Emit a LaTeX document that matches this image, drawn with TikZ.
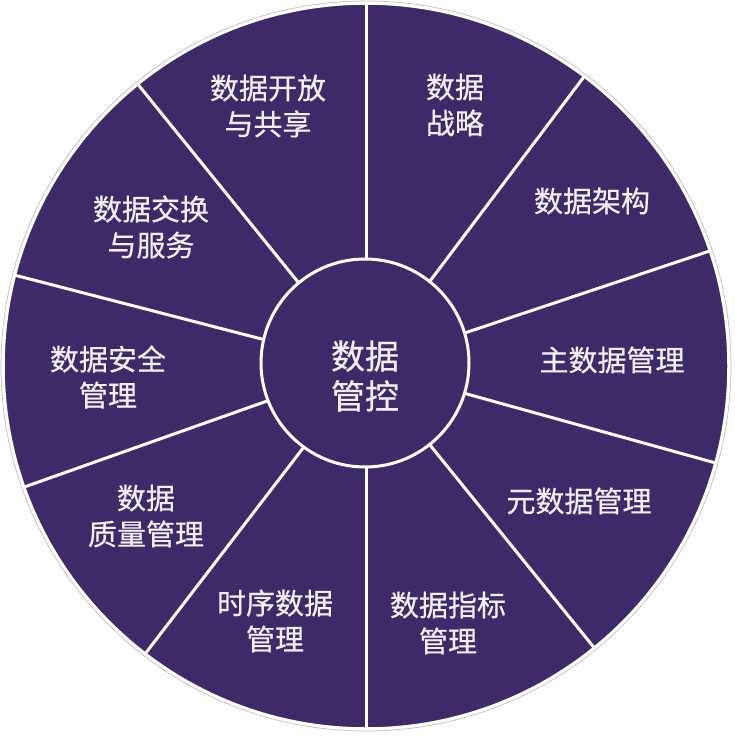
\documentclass[tikz,border=0pt]{standalone}
\usepackage{fontspec}
\newfontfamily\cjk[FakeBold=0.6]{Noto Sans CJK SC}
\definecolor{wheelpurple}{HTML}{3E2A69}
\definecolor{labelwhite}{HTML}{F2EEF8}
\begin{document}
\begin{tikzpicture}[x=1pt,y=-1pt,
  seglabel/.style={text=labelwhite, font=\cjk\fontsize{29}{36}\selectfont, align=center, inner sep=0pt},
  hublabel/.style={text=labelwhite, font=\cjk\fontsize{34}{40}\selectfont, align=center, inner sep=0pt},
  divider/.style={draw=white, line width=3pt}]
\useasboundingbox (0,0) rectangle (734,736);
\coordinate (C) at (366,366);
\fill[wheelpurple] (C) circle (363pt);
\foreach \a [count=\i] in {90,53,18.5,-15.5,-51,-90,-127.5,-160.5,165.5,129} {
  \path (C) ++(\a:365pt) coordinate (rim\i);
  \draw[divider] (C) -- (rim\i);
}
\draw[white, line width=3.5pt] (C) circle (363pt);
\draw[black!25, line width=0.7pt] (C) circle (365pt);
\node[circle, draw=white, line width=3pt, fill=wheelpurple, minimum size=208pt, inner sep=0pt] (hub) at (365,363) {};
\node[hublabel] (hubtext) at (365,376) {数据\\管控};
\node[seglabel] (s1) at (268,106) {数据开放\\与共享};
\node[seglabel] (s2) at (455,105) {数据\\战略};
\node[seglabel] (s3) at (592,201) {数据架构};
\node[seglabel] (s4) at (612,360) {主数据管理};
\node[seglabel] (s5) at (579,501) {元数据管理};
\node[seglabel] (s6) at (448,623) {数据指标\\管理};
\node[seglabel] (s7) at (275,621) {时序数据\\管理};
\node[seglabel] (s8) at (146,516) {数据\\质量管理};
\node[seglabel] (s9) at (108,377) {数据安全\\管理};
\node[seglabel] (s10) at (151,227) {数据交换\\与服务};
\end{tikzpicture}
\end{document}
